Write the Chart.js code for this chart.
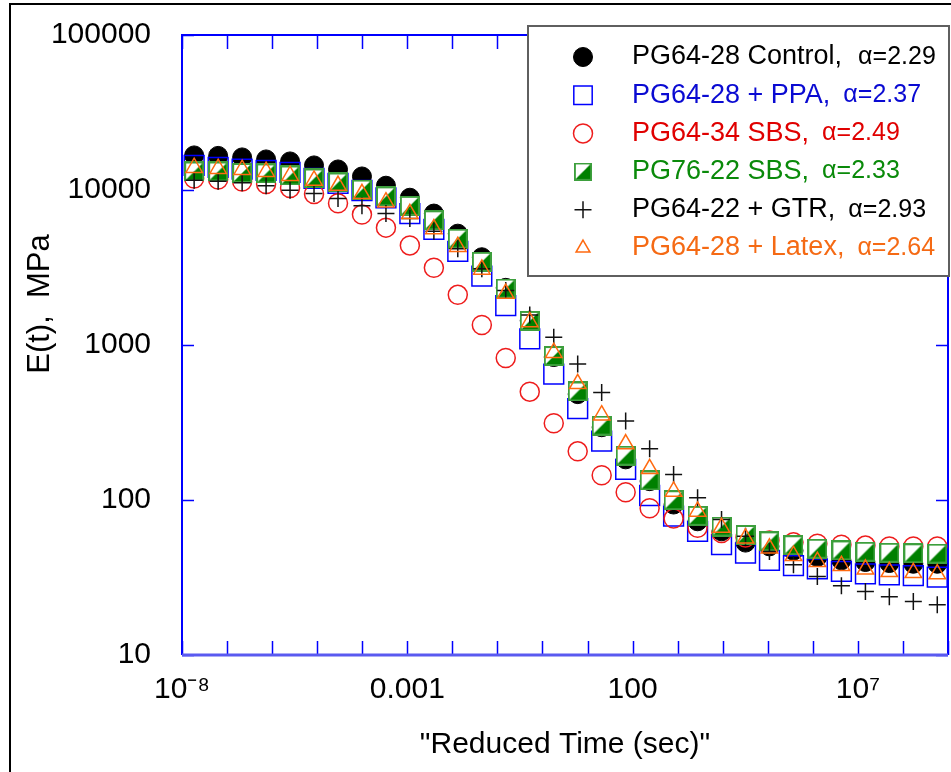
<!DOCTYPE html>
<html>
<head>
<meta charset="utf-8">
<script src="https://cdn.jsdelivr.net/npm/chart.js@4.4.1/dist/chart.umd.min.js"></script>
<style>
  html, body { margin: 0; padding: 0; background: #ffffff; }
  #wrap { width: 951px; height: 772px; }
</style>
</head>
<body>
<div id="wrap"><canvas id="relaxChart" width="951" height="772"></canvas></div>
<script>
// ── Data ──────────────────────────────────────────────────
const reducedTime = [
    1.86e-8, 6.34e-8, 2.16e-7, 7.35e-7, 2.50e-6, 8.51e-6, 2.90e-5, 9.86e-5,
    3.36e-4, 1.14e-3, 3.89e-3, 1.32e-2, 4.51e-2, 0.153, 0.522, 1.78,
    6.05, 20.6, 70.2, 239, 813, 2770, 9420, 32100,
    1.09e5, 3.72e5, 1.26e6, 4.31e6, 1.47e7, 4.99e7, 1.70e8, 5.78e8
];
const control = [16720, 16600, 16230, 15750, 15290, 14410, 13570, 12230, 10660, 8916, 7046, 5228, 3683, 2338, 1437, 836, 482, 294.7, 182.9, 132.3, 93.5, 72.9, 62.8, 53.1, 50.2, 47.1, 42.9, 40.8, 39.8, 39.2, 38.8, 38.8];
const ppa = [14410, 13980, 13630, 13370, 12980, 11870, 11020, 9926, 8903, 7046, 5575, 4018, 2784, 1797, 1094, 649, 389, 240, 157.6, 106.9, 78.6, 62.8, 51.5, 45.5, 40.8, 37.7, 35.9, 34.6, 33.4, 32.9, 32.5, 31.8];
const sbs6434 = [11870, 11690, 11350, 10940, 10300, 9422, 8215, 6941, 5718, 4392, 3150, 2107, 1347, 824, 500, 312.6, 206, 144.5, 112.3, 88.5, 75.9, 66.1, 61.3, 57.2, 54.7, 53.3, 52.3, 51.5, 50.8, 50.2, 50.2, 50.2];
const sbs7622 = [13170, 13170, 12880, 12790, 12410, 11870, 11180, 10070, 9104, 7902, 6377, 4854, 3444, 2314, 1430, 849, 501.5, 302, 193.2, 133.7, 99.7, 79.0, 67.4, 59.5, 54.1, 51.1, 48.5, 47.3, 46.4, 45.7, 45.3, 45.1];
const gtr = [11570, 11400, 11130, 10650, 9970, 9491, 8810, 7902, 7046, 6541, 5412, 4183, 3104, 2246, 1564, 1121, 753, 494, 323.6, 214.5, 146.2, 103.3, 74.8, 58.3, 46.6, 38.2, 32.1, 28.0, 25.7, 23.8, 22.1, 21.1];
const latex = [13920, 13720, 13510, 13120, 12360, 11520, 10690, 9450, 8339, 7015, 5609, 4308, 3072, 2148, 1409, 891.7, 561.6, 352.3, 229.7, 158.8, 113.5, 84.3, 66.4, 56.6, 48.8, 43.7, 40.0, 37.7, 35.7, 34.4, 33.9, 33.3];

const seriesNames = ["PG64-28 Control,", "PG64-28 + PPA,", "PG64-34 SBS,", "PG76-22 SBS,", "PG64-22 + GTR,", "PG64-28 + Latex,"];
const seriesAlpha = ["\u03B1=2.29", "\u03B1=2.37", "\u03B1=2.49", "\u03B1=2.33", "\u03B1=2.93", "\u03B1=2.64"];

const xLabelValues = [1e-8, 1e-3, 1e2, 1e7];
const xLabelText = ["10\u207B\u2078", "0.001", "100", "10\u2077"];
const xDecades = [1e-8, 1e-7, 1e-6, 1e-5, 1e-4, 1e-3, 1e-2, 1e-1, 1, 10, 100, 1e3, 1e4, 1e5, 1e6, 1e7, 1e8, 1e9];
const yLabelValues = [10, 100, 1000, 10000, 100000];
const yLabelText = ["10", "100", "1000", "10000", "100000"];

const FONT = "'Liberation Sans', Arial, Helvetica, sans-serif";

// plot box of the reference, in canvas pixels
const PLOT = { left: 182, top: 35, right: 948, bottom: 655 };

// ── Half-filled square marker (PG76-22 SBS) ───────────────
function makeHalfSquare(size) {
    const c = document.createElement("canvas");
    c.width = size;
    c.height = size;
    const g = c.getContext("2d");
    g.fillStyle = "#ffffff";
    g.fillRect(0, 0, size, size);
    g.fillStyle = "#008000";
    g.beginPath();
    g.moveTo(size, 0);
    g.lineTo(size, size);
    g.lineTo(0, size);
    g.closePath();
    g.fill();
    g.strokeStyle = "#3d9f3d";
    g.lineWidth = 2;
    g.strokeRect(1, 1, size - 2, size - 2);
    return c;
}
const halfSquare = makeHalfSquare(20);

const styles = [
    { color: "#000000", text: "#000000", pointStyle: "circle", radius: 9.5, fill: "#000000", width: 1 },
    { color: "#0000ff", text: "#0a0ad2", pointStyle: "rect", radius: 14, fill: "rgba(0,0,0,0)", width: 1.5 },
    { color: "#ee1c1c", text: "#e00000", pointStyle: "circle", radius: 9.5, fill: "rgba(0,0,0,0)", width: 1.5 },
    { color: "#008000", text: "#0a8a0a", pointStyle: halfSquare, radius: 10, fill: "#008000", width: 1 },
    { color: "#111111", text: "#000000", pointStyle: "cross", radius: 8.5, fill: "rgba(0,0,0,0)", width: 1.5 },
    { color: "#ff6a10", text: "#f56a14", pointStyle: "triangle", radius: 9.5, fill: "rgba(0,0,0,0)", width: 1.5 }
];
const allSeries = [control, ppa, sbs6434, sbs7622, gtr, latex];

const datasets = allSeries.map((values, i) => ({
    label: seriesNames[i],
    data: values.map((v, k) => ({ x: reducedTime[k], y: v })),
    pointStyle: styles[i].pointStyle,
    pointRadius: styles[i].radius,
    pointBackgroundColor: styles[i].fill,
    pointBorderColor: styles[i].color,
    pointBorderWidth: styles[i].width,
    showLine: false,
    order: allSeries.length - i   // control at the bottom, latex on top
}));

// ── Frame, inward ticks, legend box, y title ──────────────
const decorPlugin = {
    id: "decor",
    afterLayout(chart) {
        // pin the plot box to the reference position
        const a = chart.chartArea;
        a.left = PLOT.left;
        a.top = PLOT.top;
        a.right = PLOT.right;
        a.bottom = PLOT.bottom;
        a.width = PLOT.right - PLOT.left;
        a.height = PLOT.bottom - PLOT.top;
        const { x, y } = chart.scales;
        x.left = PLOT.left;
        x.right = PLOT.right;
        x.width = a.width;
        x.top = PLOT.bottom;
        x.bottom = chart.height;
        x.height = chart.height - PLOT.bottom;
        x.configure();
        y.left = 0;
        y.right = PLOT.left;
        y.width = PLOT.left;
        y.top = PLOT.top;
        y.bottom = PLOT.bottom;
        y.height = a.height;
        y.configure();
    },
    beforeDraw(chart) {
        const ctx = chart.ctx;
        ctx.save();
        ctx.fillStyle = "#ffffff";
        ctx.fillRect(0, 0, chart.width, chart.height);
        ctx.strokeStyle = "#000000";
        ctx.lineWidth = 2;
        ctx.strokeRect(10, 4, chart.width + 20, chart.height + 20);
        ctx.restore();
    },
    beforeDatasetsDraw(chart) {
        const { ctx, chartArea: a, scales } = chart;
        ctx.save();
        ctx.strokeStyle = "#0000ff";
        ctx.lineWidth = 1.5;
        xDecades.forEach((v) => {
            const px = Math.round(scales.x.getPixelForValue(v)) + 0.5;
            ctx.beginPath();
            ctx.moveTo(px, a.top);
            ctx.lineTo(px, a.top + 14);
            ctx.moveTo(px, a.bottom);
            ctx.lineTo(px, a.bottom - 14);
            ctx.stroke();
        });
        yLabelValues.forEach((v) => {
            const py = Math.round(scales.y.getPixelForValue(v)) + 0.5;
            ctx.beginPath();
            ctx.moveTo(a.left, py);
            ctx.lineTo(a.left + 12, py);
            ctx.moveTo(a.right, py);
            ctx.lineTo(a.right - 12, py);
            ctx.stroke();
        });
        ctx.lineWidth = 2;
        ctx.beginPath();
        ctx.moveTo(a.left, a.bottom);
        ctx.lineTo(a.left, a.top);
        ctx.lineTo(a.right, a.top);
        ctx.lineTo(a.right, a.bottom);
        ctx.stroke();
        ctx.strokeStyle = "#5a5af0";
        ctx.lineWidth = 3;
        ctx.beginPath();
        ctx.moveTo(a.left, a.bottom);
        ctx.lineTo(a.right, a.bottom);
        ctx.stroke();
        ctx.restore();
    },
    afterDraw(chart) {
        const ctx = chart.ctx;
        ctx.save();

        // y axis title
        ctx.translate(40, 304);
        ctx.rotate(-Math.PI / 2);
        ctx.fillStyle = "#000000";
        ctx.font = "31px " + FONT;
        ctx.textAlign = "center";
        ctx.textBaseline = "middle";
        ctx.fillText("E(t),  MPa", 0, 0);
        ctx.setTransform(1, 0, 0, 1, 0, 0);

        // legend
        const box = { left: 528, top: 26, right: 949, bottom: 276 };
        ctx.fillStyle = "#ffffff";
        ctx.fillRect(box.left, box.top, box.right - box.left, box.bottom - box.top);
        ctx.strokeStyle = "#5f5f5f";
        ctx.lineWidth = 2;
        ctx.strokeRect(box.left, box.top, box.right - box.left, box.bottom - box.top);

        ctx.textAlign = "left";
        ctx.textBaseline = "middle";
        seriesNames.forEach((name, i) => {
            const y = box.top + 31 + i * 38.2;
            const st = styles[i];
            const symX = 583;
            if (st.pointStyle === halfSquare) {
                ctx.drawImage(halfSquare, symX - 9, y - 9, 18, 18);
            } else {
                ctx.fillStyle = st.fill;
                ctx.strokeStyle = st.color;
                ctx.lineWidth = st.width;
                Chart.helpers.drawPoint(ctx, {
                    pointStyle: st.pointStyle,
                    radius: st.pointStyle === "rect" ? 13 : (st.pointStyle === "triangle" ? 8 : st.radius),
                    rotation: 0,
                    borderWidth: st.width
                }, symX, y);
            }
            ctx.fillStyle = st.text;
            ctx.font = "27px " + FONT;
            ctx.fillText(name, 632, y);
            const w = ctx.measureText(name).width;
            ctx.font = "25px " + FONT;
            ctx.fillText(seriesAlpha[i], 632 + w + (i === 0 ? 16 : 13), y);
        });
        ctx.restore();
    }
};

const tickFont = { family: FONT, size: 30 };

new Chart(document.getElementById("relaxChart"), {
    type: "scatter",
    data: { datasets },
    options: {
        responsive: false,
        animation: false,
        devicePixelRatio: 1,
        layout: { padding: { left: 0, right: 3, top: 35, bottom: 0 } },
        plugins: {
            legend: { display: false },
            tooltip: { enabled: false }
        },
        scales: {
            x: {
                type: "logarithmic",
                min: 1e-8,
                max: 1e9,
                grid: { display: false, drawTicks: false },
                border: { display: false },
                afterBuildTicks: (scale) => {
                    scale.ticks = xLabelValues.map((v) => ({ value: v }));
                },
                ticks: {
                    autoSkip: false,
                    maxRotation: 0,
                    padding: 17,
                    color: "#000000",
                    font: tickFont,
                    callback: (value, index) => xLabelText[index]
                },
                title: {
                    display: true,
                    text: "\"Reduced Time (sec)\"",
                    color: "#000000",
                    font: { family: FONT, size: 30 },
                    padding: { top: 0, bottom: 9 }
                }
            },
            y: {
                type: "logarithmic",
                min: 10,
                max: 100000,
                grid: { display: false, drawTicks: false },
                border: { display: false },
                afterBuildTicks: (scale) => {
                    scale.ticks = yLabelValues.map((v) => ({ value: v }));
                },
                ticks: {
                    autoSkip: false,
                    padding: 31,
                    color: "#000000",
                    font: tickFont,
                    callback: (value, index) => yLabelText[index]
                }
            }
        }
    },
    plugins: [decorPlugin]
});
</script>
</body>
</html>
